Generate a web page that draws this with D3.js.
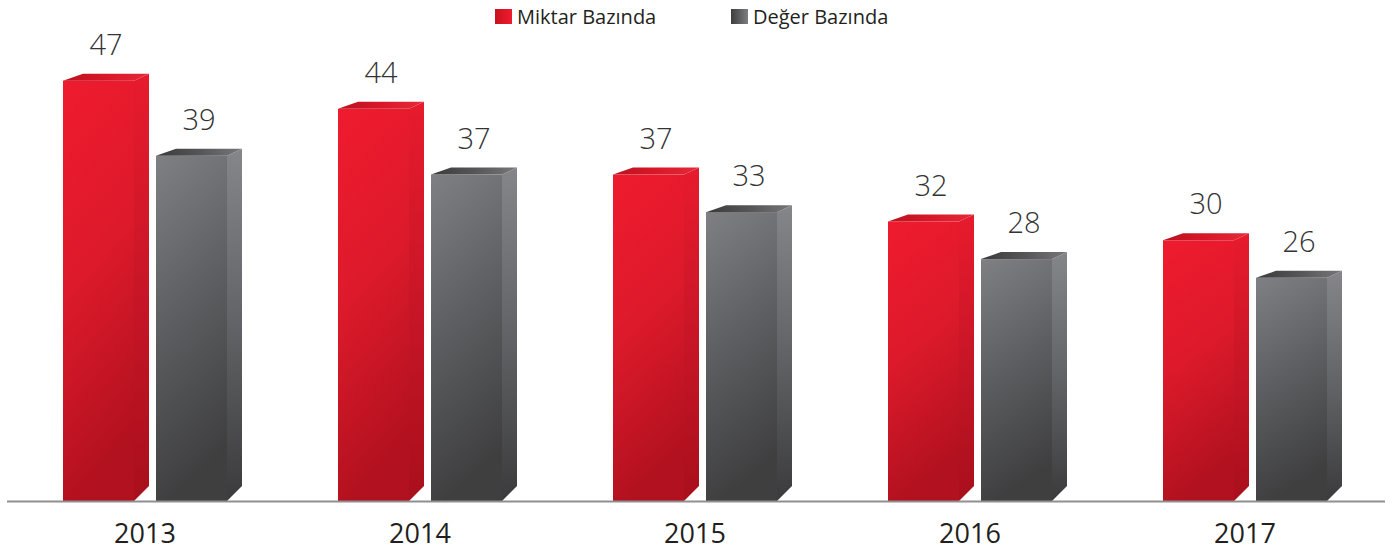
<!DOCTYPE html>
<html>
<head>
<meta charset="utf-8">
<script src="https://cdn.jsdelivr.net/npm/d3@7"></script>
<style>
  body { margin: 0; background: #fff; }
  svg { display: block; font-family: "Open Sans", "Noto Sans", sans-serif; }
</style>
</head>
<body>
<svg id="chart"></svg>
<script>
const WIDTH = 1395;
const HEIGHT = 553;

const years = ["2013", "2014", "2015", "2016", "2017"];
const miktar = [47, 44, 37, 32, 30];
const deger = [39, 37, 33, 28, 26];
const seriesNames = ["Miktar Bazında", "Değer Bazında"];

const BASE = 501;
const FRONT = 71;
const DX = 15, DY = 7;

function addGradient(defs, id, x2, y2, stops) {
    let g = defs.append( "linearGradient" ).attr( "id", id )
        .attr( "x1", 0 ).attr( "y1", 0 ).attr( "x2", x2 ).attr( "y2", y2 );
    stops.forEach( (c, i) => g.append( "stop" )
        .attr( "offset", i / (stops.length - 1) ).attr( "stop-color", c ) );
}

function drawBars(svg, data, xOff, sc, y, kind) {
    let g = svg.append( "g" );
    data.forEach( (v, i) => {
        let x0 = sc(years[i]) + sc.bandwidth() / 2 + xOff;
        let x1 = x0 + FRONT;
        let top = y(v);
        g.append( "rect" )
            .attr( "x", x0 ).attr( "y", top )
            .attr( "width", FRONT ).attr( "height", BASE - top )
            .attr( "fill", "url(#" + kind + "-front)" );
        g.append( "polygon" )
            .attr( "points", [[x1, top], [x1 + DX, top - DY], [x1 + DX, BASE - DX], [x1, BASE]].join( " " ) )
            .attr( "fill", "url(#" + kind + "-side)" );
        g.append( "polygon" )
            .attr( "points", [[x0, top], [x0 + 20, top - DY], [x1 + DX, top - DY], [x1, top]].join( " " ) )
            .attr( "fill", "url(#" + kind + "-top)" );
        g.append( "text" )
            .attr( "x", x0 + (FRONT + DX) / 2 ).attr( "y", top - 26 )
            .attr( "text-anchor", "middle" )
            .attr( "font-size", 29 ).attr( "font-weight", 300 )
            .attr( "fill", "#333" )
            .text( v );
    });
}

window.addEventListener("load", () => {
    let svg = d3.select( "#chart" ).attr( "width", WIDTH ).attr( "height", HEIGHT );
    let defs = svg.append( "defs" );

    addGradient( defs, "red-front", 0.2, 1, ["#ef1b2e", "#dc1a2b", "#b2111f"] );
    addGradient( defs, "red-side", 0, 1, ["#e71b2d", "#c81627", "#a90f1c"] );
    addGradient( defs, "red-top", 1, 0, ["#b8121f", "#d81828", "#e42a3a"] );
    addGradient( defs, "gray-front", 0.2, 1, ["#7f8084", "#5d5e61", "#3f3f40"] );
    addGradient( defs, "gray-side", 0, 1, ["#85868a", "#626366", "#3b3b3c"] );
    addGradient( defs, "gray-top", 1, 0, ["#3a3a3a", "#555557", "#777779"] );
    addGradient( defs, "red-key", 1, 0, ["#c8121f", "#ef1b2e"] );
    addGradient( defs, "gray-key", 1, 0, ["#3e3e3e", "#7d7e82"] );

    let x = d3.scaleBand().domain( years ).range( [7.5, 7.5 + 275 * years.length] );
    let y = d3.scaleLinear().domain( [0, 50] ).range( [522, 52.5] );

    drawBars( svg, miktar, -82, x, y, "red" );
    drawBars( svg, deger, 11, x, y, "gray" );

    svg.append( "line" )
        .attr( "x1", 7 ).attr( "x2", 1385 )
        .attr( "y1", BASE + 0.5 ).attr( "y2", BASE + 0.5 )
        .attr( "stroke", "#8f8f8f" ).attr( "stroke-width", 2 );

    svg.append( "g" ).selectAll( "text" ).data( years ).enter()
        .append( "text" )
        .attr( "x", d => x(d) + x.bandwidth() / 2 ).attr( "y", 543 )
        .attr( "text-anchor", "middle" )
        .attr( "font-size", 27 ).attr( "fill", "#231f20" )
        .text( d => d );

    let legend = svg.append( "g" ).selectAll( "g" ).data( seriesNames ).enter()
        .append( "g" )
        .attr( "transform", (d, i) => "translate(" + [495 + i * 236, 9] + ")" );
    legend.append( "rect" )
        .attr( "width", 17 ).attr( "height", 15 )
        .attr( "fill", (d, i) => i == 0 ? "url(#red-key)" : "url(#gray-key)" );
    legend.append( "text" )
        .attr( "x", 22 ).attr( "y", 15 )
        .attr( "font-size", 20 ).attr( "fill", "#231f20" )
        .text( d => d );
});
</script>
</body>
</html>
